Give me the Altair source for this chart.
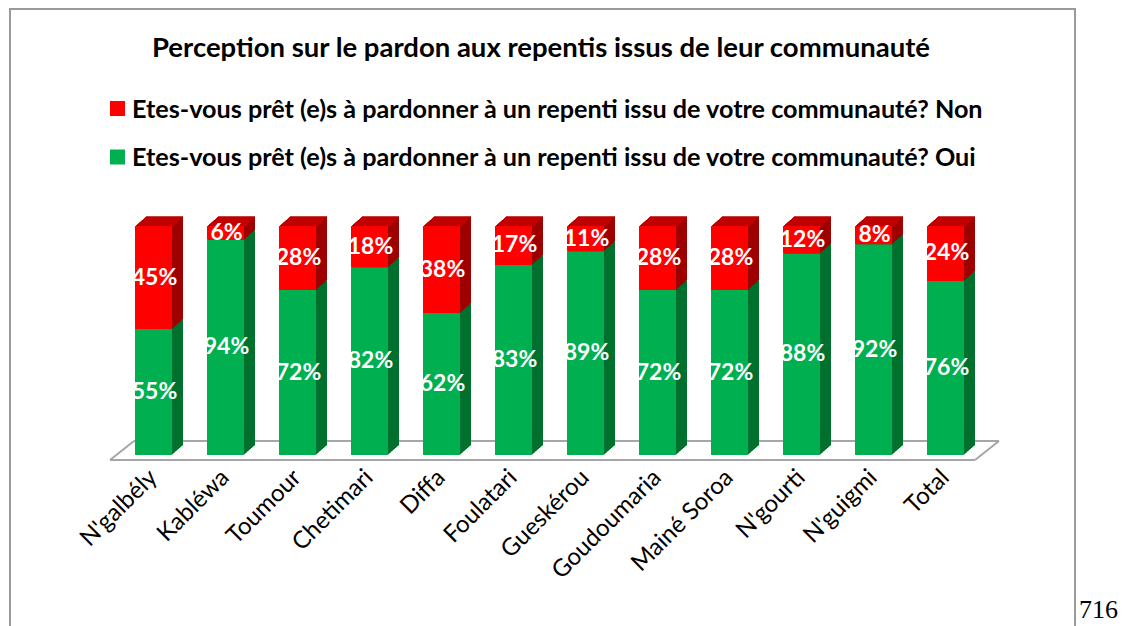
import altair as alt
import pandas as pd

# ---- data ----
communes = ["N'galbély", "Kabléwa", "Toumour", "Chetimari", "Diffa", "Foulatari",
            "Gueskérou", "Goudoumaria", "Mainé Soroa", "N'gourti", "N'guigmi", "Total"]
oui = [55, 94, 72, 82, 62, 83, 89, 72, 72, 88, 92, 76]
non = [45, 6, 28, 18, 38, 17, 11, 28, 28, 12, 8, 24]
series_non = "Etes-vous prêt (e)s à pardonner à un repenti issu de votre communauté? Non"
series_oui = "Etes-vous prêt (e)s à pardonner à un repenti issu de votre communauté? Oui"
title_text = "Perception sur le pardon aux repentis issus de leur communauté"
page_number = "716"

# ---- build table ----
rows = []
for c, o, n in zip(communes, oui, non):
    rows.append(dict(commune=c, series="Oui", start=0, end=o, mid=o / 2, label=f"{o}%"))
    rows.append(dict(commune=c, series="Non", start=o, end=o + n, mid=o + n / 2, label=f"{n}%"))
df = pd.DataFrame(rows)

# ---- styles ----
FONT = "Lato"
RED, RED_SIDE, RED_TOP = "#FF0000", "#9E0000", "#C00000"
GREEN, GREEN_SIDE = "#00B050", "#00702F"
GRID = "#A6A6A6"

W, H = 1113, 618

xscale = alt.Scale(domain=communes, range=[109.5, 973.5], paddingInner=35 / 72, paddingOuter=17.5 / 72)
yscale = alt.Scale(domain=[0, 100], range=[447, 218])

X = alt.X("commune:N", scale=xscale, axis=None, sort=communes)
Y = alt.Y("start:Q", scale=yscale, axis=None)
Y2 = alt.Y2("end:Q")

base = alt.Chart(df)

layers = []

# floor (decorative parallelogram)
one = pd.DataFrame({"a": [0]})
def rule(x1, y1, x2, y2, color=GRID):
    return alt.Chart(one).mark_rule(color=color, strokeWidth=2).encode(
        x=alt.value(x1), y=alt.value(y1), x2=alt.value(x2), y2=alt.value(y2))

layers += [rule(102, 452, 967, 452), rule(126, 433, 991, 433),
           rule(102, 452, 126, 433), rule(967, 452, 991, 433)]

# frame
layers += [rule(2, 0, 2, H, "#9a9a9a"), rule(1, 1, 1068, 1, "#9a9a9a"),
           rule(1067, 0, 1067, H, "#9a9a9a")]

# 3D depth: side copies
N = 11
DX, DY = 11.0, 9.5
side_color = alt.condition(alt.datum.series == "Non", alt.value(RED_SIDE), alt.value(GREEN_SIDE))
for k in range(N, 0, -1):
    ox = DX * k / N
    oy = DY * k / N
    layers.append(base.mark_bar(xOffset=ox, x2Offset=ox, yOffset=-oy, y2Offset=-oy).encode(
        x=X, y=Y, y2=Y2, color=side_color))

# top faces (only visible on the upper segment)
for k in range(N, 0, -1):
    ox = DX * k / N
    oy = DY * k / N
    oy_prev = DY * (k - 1) / N
    layers.append(base.transform_filter(alt.datum.series == "Non").mark_bar(
        xOffset=ox, x2Offset=ox, yOffset=-oy, y2Offset=-oy_prev + 0.6, color=RED_TOP).encode(
        x=X, y=alt.Y("end:Q", scale=yscale, axis=None), y2=alt.Y2("end:Q")))

# front faces
front_color = alt.condition(alt.datum.series == "Non", alt.value(RED), alt.value(GREEN))
layers.append(base.mark_bar().encode(x=X, y=Y, y2=Y2, color=front_color))

# value labels
layers.append(base.mark_text(font=FONT, fontSize=23, fontWeight="bold", color="white",
                             align="center", baseline="middle", dx=1).encode(
    x=X, y=alt.Y("mid:Q", scale=yscale, axis=None), text="label:N"))

# category labels (rotated)
cat_df = pd.DataFrame({"commune": communes})
layers.append(alt.Chart(cat_df).mark_text(font=FONT, fontSize=24, color="black", angle=315,
                                          align="right", baseline="middle").encode(
    x=X, y=alt.value(466), text="commune:N"))

# title
layers.append(alt.Chart(pd.DataFrame({"t": [title_text]})).mark_text(
    font=FONT, fontSize=27.5, fontWeight="bold", color="black", align="center", baseline="middle").encode(
    x=alt.value(533), y=alt.value(41), text="t:N"))

# legend (manual)
legend_items = [(series_non, RED), (series_oui, GREEN)]
for i, (lab, col) in enumerate(legend_items):
    ly = 100.5 + 48.5 * i
    ldf = pd.DataFrame({"t": [lab]})
    layers.append(alt.Chart(ldf).mark_square(size=225, color=col, opacity=1).encode(
        x=alt.value(109.5), y=alt.value(ly)))
    layers.append(alt.Chart(ldf).mark_text(font=FONT, fontSize=25.2, fontWeight="bold", color="black",
                                           align="left", baseline="middle").encode(
        x=alt.value(124), y=alt.value(ly + 1), text="t:N"))

# page number
layers.append(alt.Chart(pd.DataFrame({"t": [page_number]})).mark_text(
    font="Liberation Serif", fontSize=26, color="black", align="left", baseline="alphabetic").encode(
    x=alt.value(1071), y=alt.value(610), text="t:N"))

chart = alt.layer(*layers).properties(
    width=W, height=H,
    autosize=alt.AutoSizeParams(type="none"),
    padding=0,
).configure_view(stroke=None)

chart.save("out.html", embed_options={"renderer": "svg", "actions": False})
